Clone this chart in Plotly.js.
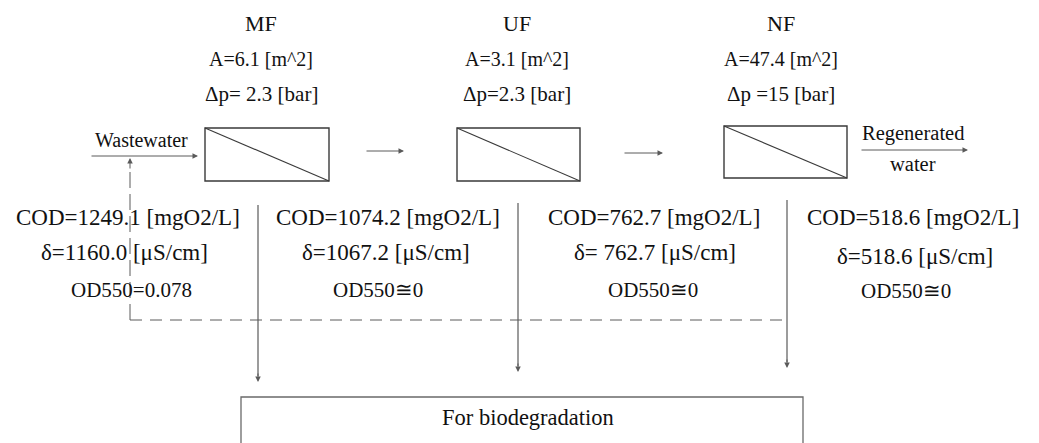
<!DOCTYPE html>
<html>
<head>
<meta charset="utf-8">
<script src="https://cdn.plot.ly/plotly-3.0.1.min.js"></script>
<style>html,body{margin:0;padding:0;background:#fff;}#chart{width:1039px;height:443px;}</style>
</head>
<body>
<div id="chart"></div>
<script>
// ---- data ----
const stages = ['MF', 'UF', 'NF'];
const areaLabels = ['A=6.1 [m^2]', 'A=3.1 [m^2]', 'A=47.4 [m^2]'];
const pressureLabels = ['Δp= 2.3 [bar]', 'Δp=2.3 [bar]', 'Δp =15 [bar]'];
const codValues = ['1249.1', '1074.2', '762.7', '518.6'];
const conductivityLabels = ['δ=1160.0 [μS/cm]', 'δ=1067.2 [μS/cm]', 'δ= 762.7 [μS/cm]', 'δ=518.6 [μS/cm]'];
const odLabels = ['OD550=0.078', 'OD550≅0', 'OD550≅0', 'OD550≅0'];
const inletLabel = 'Wastewater';
const outletLabels = ['Regenerated', 'water'];
const sinkLabel = 'For biodegradation';

// ---- geometry (pixel layout of the diagram) ----
const stageCenterX = [261, 517, 781];
const boxes = [[205, 128, 329, 181], [457, 128, 580, 181], [724, 126, 847, 178]];
const headerY = [23, 59, 94];
const streamX = [[128, 124, 131], [388, 386, 378], [654, 655, 653], [913, 915, 906]];
const streamY = [[217, 252, 290], [217, 252, 290], [217, 252, 290], [217, 256, 291]];
const drainX = [258, 518, 787];
const drainTop = [205, 203, 200];
const drainEnd = [382, 372, 368];

const FONT = '"Liberation Serif", "Times New Roman", Times, serif';
const TXT = '#111';
const LINE = '#3a3a3a';
const ARROW = '#5a5a5a';

const annotations = [];
const shapes = [];
function txt(x, y, text, size) {
  annotations.push({x: x, y: y, xref: 'x', yref: 'y', text: text, showarrow: false,
    xanchor: 'center', yanchor: 'middle', font: {family: FONT, size: size || 21, color: TXT}});
}
function arrow(x0, y0, x1, y1, color) {
  annotations.push({x: x1, y: y1, ax: x0, ay: y0, xref: 'x', yref: 'y', axref: 'x', ayref: 'y',
    text: '', showarrow: true, arrowhead: 2, arrowsize: 1.1, arrowwidth: 1, arrowcolor: color || ARROW, standoff: 0});
}

stages.forEach((s, i) => {
  txt(stageCenterX[i], headerY[0], s, 22);
  txt(stageCenterX[i], headerY[1], areaLabels[i], 20);
  txt(stageCenterX[i], headerY[2], pressureLabels[i], 21);
  const b = boxes[i];
  shapes.push({type: 'rect', xref: 'x', yref: 'y', x0: b[0], y0: b[1], x1: b[2], y1: b[3], line: {color: LINE, width: 1.4}});
  shapes.push({type: 'line', xref: 'x', yref: 'y', x0: b[0], y0: b[1], x1: b[2], y1: b[3], line: {color: LINE, width: 1.1}});
});

codValues.forEach((c, i) => {
  txt(streamX[i][0], streamY[i][0], 'COD=' + c + ' [mgO2/L]', 23);
  txt(streamX[i][1], streamY[i][1], conductivityLabels[i], 23);
  txt(streamX[i][2], streamY[i][2], odLabels[i], 21);
});

// inlet / outlet
txt(141, 140, inletLabel, 20);
arrow(90, 156, 198, 156, ARROW);
arrow(365, 151, 404, 151, ARROW);
arrow(623, 153, 663, 153, ARROW);
txt(913, 133, outletLabels[0], 20.5);
txt(913, 164, outletLabels[1], 20.5);
arrow(860, 150, 968, 150, ARROW);

// recycle dashed loop
shapes.push({type: 'line', xref: 'x', yref: 'y', x0: 130, y0: 320, x1: 787, y1: 320, line: {color: ARROW, width: 1, dash: '12px,8px'}});
shapes.push({type: 'line', xref: 'x', yref: 'y', x0: 130, y0: 320, x1: 130, y1: 166, line: {color: ARROW, width: 1, dash: '16px,6px'}});
arrow(130, 170, 130, 158, ARROW);

// drains
drainX.forEach((x, i) => {
  shapes.push({type: 'line', xref: 'x', yref: 'y', x0: x, y0: drainTop[i], x1: x, y1: drainEnd[i] - 6, line: {color: ARROW, width: 1.2}});
  arrow(x, drainEnd[i] - 10, x, drainEnd[i], ARROW);
});

// sink box (open at bottom edge of picture)
shapes.push({type: 'path', xref: 'x', yref: 'y', path: 'M241,460 L241,397 L803,397 L803,460', line: {color: '#6a6a6a', width: 1.3}});
txt(528, 417, sinkLabel, 22.5);

const layout = {
  width: 1039, height: 443,
  margin: {l: 0, r: 0, t: 0, b: 0, pad: 0},
  paper_bgcolor: '#fff', plot_bgcolor: '#fff',
  showlegend: false,
  xaxis: {range: [0, 1039], visible: false, fixedrange: true},
  yaxis: {range: [443, 0], visible: false, fixedrange: true},
  shapes: shapes,
  annotations: annotations
};
Plotly.newPlot('chart', [{x: [], y: [], type: 'scatter', hoverinfo: 'skip'}], layout, {staticPlot: true, displayModeBar: false});
</script>
</body>
</html>
